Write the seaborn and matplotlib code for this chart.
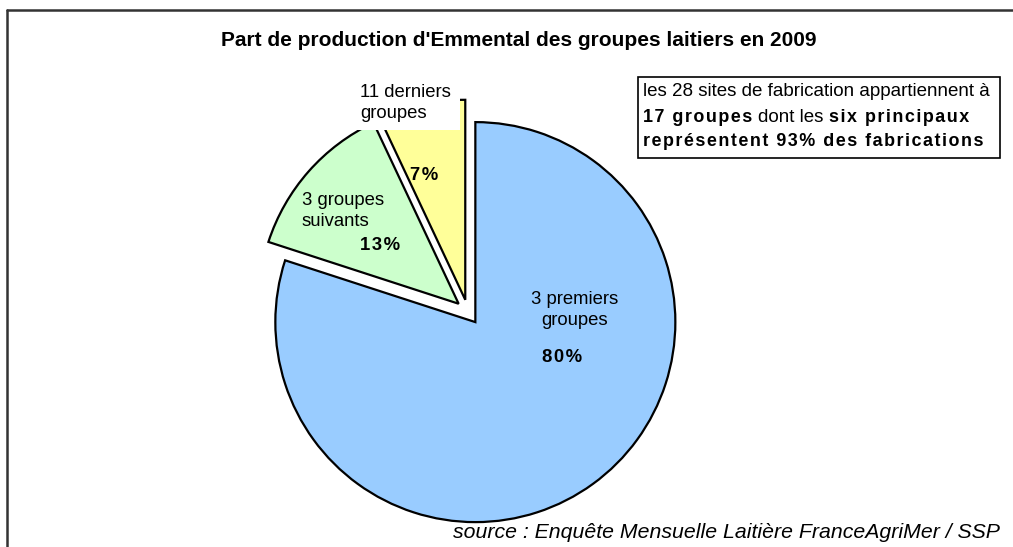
import matplotlib
matplotlib.use("Agg")
import matplotlib.pyplot as plt
from matplotlib.patches import Rectangle
from matplotlib.lines import Line2D
import seaborn as sns

# Data
groups = ["3 premiers\ngroupes", "3 groupes\nsuivants", "11 derniers\ngroupes"]
shares = [80, 13, 7]
pct_labels = ["80%", "13%", "7%"]
slice_colors = ["#99CCFF", "#CCFFCC", "#FFFF99"]

title = "Part de production d'Emmental des groupes laitiers en 2009"
source = "source : Enquête Mensuelle Laitière FranceAgriMer / SSP"

W, H = 1013, 547

sns.set_theme(style="white")
plt.rcParams['font.family'] = ['Liberation Sans', 'DejaVu Sans']
plt.rcParams['text.color'] = 'black'

def spaced(s):
    # the bold text in the original is letter-spaced
    return "\u200a".join(s)

fig = plt.figure(figsize=(W / 100, H / 100), dpi=100)
ax = fig.add_axes([0, 0, 1, 1])

# pie, data units = pixels (y measured from bottom)
wedges, _ = ax.pie(shares, colors=slice_colors, startangle=90, counterclock=False,
                   explode=[12.5] * 3, radius=200, center=(468, H - 312),
                   wedgeprops=dict(edgecolor="black", linewidth=1.6),
                   frame=True)
ax.set_xlim(0, W)
ax.set_ylim(0, H)
ax.set_aspect("auto")
ax.axis("off")

def py(y):
    return H - y

fs = 13.3
fb = 12.9

# slice labels
ax.text(575, py(310), groups[0], ha="center", va="center", fontsize=fs, linespacing=1.25)
ax.text(562, py(357), spaced(pct_labels[0]), ha="center", va="center", fontsize=fs, weight="bold")
ax.text(302, py(211), groups[1], ha="left", va="center", fontsize=fs, linespacing=1.25)
ax.text(380, py(246), spaced(pct_labels[1]), ha="center", va="center", fontsize=fs, weight="bold")
ax.add_patch(Rectangle((352, py(130)), 108, 50, facecolor="white", edgecolor="none", zorder=3))
ax.text(360, py(103), groups[2], ha="left", va="center", fontsize=fs, linespacing=1.25, zorder=4)
ax.text(424, py(175), spaced(pct_labels[2]), ha="center", va="center", fontsize=fs, weight="bold")

# title and source
ax.text(519, py(40), title, ha="center", va="center", fontsize=15, weight="bold")
ax.text(1000, py(533), source, ha="right", va="center", fontsize=15.3, style="italic")

# note box
ax.add_patch(Rectangle((638, py(158)), 362, 81, facecolor="white", edgecolor="black", linewidth=1.2))
ax.text(643, py(91), "les 28 sites de fabrication appartiennent à", ha="left", va="center", fontsize=13.5)
t1 = ax.text(643, py(117), spaced("17 groupes"), ha="left", va="center", fontsize=fb, weight="bold")
t2 = ax.annotate("dont les", xy=(1, 0), xycoords=t1, xytext=(4, 0), textcoords="offset points",
                 ha="left", va="bottom", fontsize=13.5)
ax.annotate(spaced("six principaux"), xy=(1, 0), xycoords=t2, xytext=(4, 0), textcoords="offset points",
            ha="left", va="bottom", fontsize=fb, weight="bold")
ax.text(643, py(142), spaced("représentent 93% des fabrications"), ha="left", va="center",
        fontsize=fb, weight="bold")

# outer frame (open on right and bottom)
fig.add_artist(Line2D([7 / W, 7 / W], [0, 1 - 10 / H], color="#333333", linewidth=1.8))
fig.add_artist(Line2D([7 / W, 1], [1 - 10 / H, 1 - 10 / H], color="#333333", linewidth=1.8))

fig.savefig("out.png", dpi=100)
